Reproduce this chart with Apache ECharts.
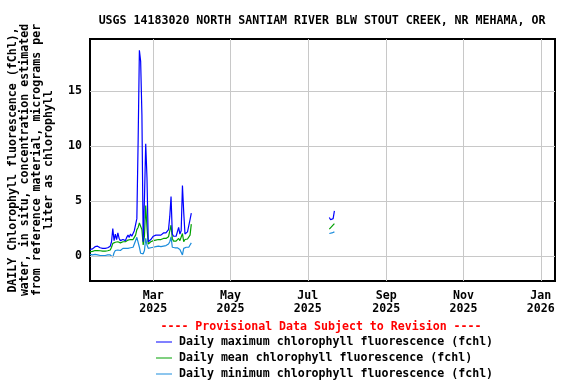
<!DOCTYPE html>
<html>
<head>
<meta charset="utf-8">
<script src="https://cdn.jsdelivr.net/npm/echarts@6/dist/echarts.min.js"></script>
<style>
html,body{margin:0;padding:0;background:#fff;}
#chart{width:576px;height:384px;}
</style>
</head>
<body>
<div id="chart"></div>
<script>
// ---- data ----
const titleText = 'USGS 14183020 NORTH SANTIAM RIVER BLW STOUT CREEK, NR MEHAMA, OR';
const yAxisTitle = 'DAILY Chlorophyll fluorescence (fChl),\nwater, in situ, concentration estimated\nfrom reference material, micrograms per\nliter as chlorophyll';
const provisionalText = '---- Provisional Data Subject to Revision ----';
const seriesNames = [
  'Daily maximum chlorophyll fluorescence (fchl)',
  'Daily mean chlorophyll fluorescence (fchl)',
  'Daily minimum chlorophyll fluorescence (fchl)'
];
const seriesColors = ['#0000ff', '#00a000', '#1a8cdc'];

const seg1Start = '2025-01-10';
const maxSeg1 = [0.6,0.6,0.65,0.7,0.85,0.75,0.9,0.8,0.75,0.7,
  0.7,0.75,0.7,0.7,0.75,0.8,0.9,1.3,2.5,1.4,
  2.0,1.5,2.1,1.6,1.4,1.35,1.5,1.6,1.4,1.7,
  1.9,1.7,2.0,1.8,1.7,2.3,2.4,3.4,10.4,18.7,
  17.7,12.8,1.3,5.2,10.2,7.1,1.3,1.4,1.5,1.4,
  1.8,1.9,1.9,1.8,1.9,2.0,1.9,2.0,2.1,2.0,
  2.1,2.2,2.4,3.6,5.4,2.0,1.8,1.9,1.8,1.9,
  2.6,2.0,2.3,6.4,4.0,2.0,2.1,2.2,2.3,3.3,3.9];
const meanSeg1 = [0.4,0.4,0.42,0.45,0.5,0.48,0.5,0.5,0.48,0.45,
  0.45,0.45,0.45,0.45,0.48,0.5,0.55,0.8,1.15,1.2,
  1.25,1.2,1.3,1.25,1.2,1.25,1.3,1.35,1.3,1.4,
  1.45,1.45,1.5,1.55,1.5,1.7,1.9,2.4,2.6,3.0,
  2.9,2.4,1.0,1.8,4.6,2.6,1.1,1.2,1.3,1.35,
  1.4,1.45,1.45,1.5,1.5,1.55,1.5,1.55,1.6,1.55,
  1.6,1.65,1.75,1.8,2.8,1.6,1.35,1.4,1.35,1.45,
  1.6,1.4,1.5,2.05,1.3,1.5,1.5,1.55,1.6,1.9,2.9];
const minSeg1 = [0.15,0.15,0.1,0.1,0.15,0.1,0.1,0.05,0.05,0.05,
  0.05,0.05,0.05,0.05,0.1,0.1,0.1,0.05,-0.1,0.3,
  0.5,0.4,0.55,0.45,0.5,0.6,0.7,0.65,0.7,0.75,
  0.7,0.8,0.75,0.85,0.8,1.1,1.2,1.7,1.6,0.8,
  0.25,0.25,0.2,0.5,1.6,1.0,0.7,0.7,0.75,0.8,
  0.8,0.85,0.85,0.85,0.9,0.9,0.85,0.9,0.9,0.95,
  0.95,1.0,1.1,1.3,1.75,0.8,0.7,0.75,0.7,0.75,
  0.8,0.6,0.5,0.1,0.7,0.8,0.8,0.85,0.8,1.0,1.2];

const seg2Start = '2025-07-18';
const maxSeg2 = [3.5,3.3,3.3,3.4,4.1];
const meanSeg2 = [2.45,2.6,2.7,2.8,2.95];
const minSeg2 = [2.05,2.2,2.1,2.25,2.2];

const xMinDate = '2025-01-10';
const xMaxDate = '2026-01-12T05:00:00Z';
const xTickDates = ['2025-03-01','2025-05-01','2025-07-01','2025-09-01','2025-11-01','2026-01-01'];
const monthNames = ['Jan','Feb','Mar','Apr','May','Jun','Jul','Aug','Sep','Oct','Nov','Dec'];
const yTicks = [0, 5, 10, 15];
const yMin = -2.27, yMax = 19.73;

// ---- build ----
const DAY = 86400000;
function ms(s){ return new Date(s.length === 10 ? s + 'T00:00:00Z' : s).getTime(); }
function build(seg1, seg2){
  const out = [];
  const s1 = ms(seg1Start), s2 = ms(seg2Start);
  seg1.forEach((v,i)=>out.push([s1 + i*DAY, v]));
  out.push([s1 + seg1.length*DAY, null]);
  seg2.forEach((v,i)=>out.push([s2 + i*DAY, v]));
  return out;
}
const seriesData = [build(maxSeg1, maxSeg2), build(meanSeg1, meanSeg2), build(minSeg1, minSeg2)];
const xTicks = xTickDates.map(ms);

const FONT = 'DejaVu Sans Mono';
const chart = echarts.init(document.getElementById('chart'), null, {renderer:'canvas'});

const lineSeries = seriesNames.map((n,i)=>({
  name: n, type: 'line', data: seriesData[i], showSymbol: false, symbol: 'none',
  connectNulls: false, animation: false, z: 5 - i,
  lineStyle: {color: seriesColors[i], width: 1.2}, itemStyle: {color: seriesColors[i]}
}));

const gridSeries = {
  type: 'line', data: [], silent: true, z: 1, animation: false,
  markLine: {
    silent: true, symbol: ['none','none'], animation: false,
    label: {show: false},
    lineStyle: {color: '#c8c8c8', width: 1, type: 'solid'},
    data: xTicks.map(t=>({xAxis: t})).concat(yTicks.map(v=>({yAxis: v})))
  }
};

chart.setOption({
  animation: false,
  backgroundColor: '#fff',
  textStyle: {fontFamily: FONT},
  title: {
    text: titleText, left: 317, top: 10, textAlign: 'center',
    textStyle: {fontFamily: FONT, fontSize: 11.6, fontWeight: 'bold', color: '#000'}
  },
  grid: {left: 90, top: 39, width: 465, height: 242, show: true, borderColor: '#000', borderWidth: 2, backgroundColor: 'transparent'},
  xAxis: {
    type: 'value', min: ms(xMinDate), max: ms(xMaxDate),
    axisLine: {show: false}, axisTick: {show: false}, splitLine: {show: false},
    axisLabel: {
      customValues: xTicks, margin: 8,
      fontFamily: FONT, fontSize: 11.6, fontWeight: 'bold', color: '#000', lineHeight: 13,
      formatter: function(v){ const d = new Date(v); return monthNames[d.getUTCMonth()] + '\n' + d.getUTCFullYear(); }
    }
  },
  yAxis: {
    type: 'value', min: yMin, max: yMax,
    axisLine: {show: false}, axisTick: {show: false}, splitLine: {show: false},
    axisLabel: {customValues: yTicks, margin: 8, fontFamily: FONT, fontSize: 11.6, fontWeight: 'bold', color: '#000'}
  },
  legend: {
    orient: 'vertical', left: 156, top: 335, padding: 0, itemGap: 2, itemWidth: 16, itemHeight: 1,
    icon: 'rect', selectedMode: false, height: 60,
    data: seriesNames,
    textStyle: {fontFamily: FONT, fontSize: 11.6, fontWeight: 'bold', color: '#000', lineHeight: 14, padding: [0,0,0,2]}
  },
  graphic: [
    {type: 'text', x: 31, y: 160, rotation: Math.PI/2,
     style: {text: yAxisTitle, fill: '#000', font: 'bold 11.6px "DejaVu Sans Mono"', align: 'center', verticalAlign: 'middle', lineHeight: 12.3}},
    {type: 'text', x: 321, y: 327,
     style: {text: provisionalText, fill: '#ff0000', font: 'bold 11.6px "DejaVu Sans Mono"', align: 'center', verticalAlign: 'middle'}}
  ],
  series: [gridSeries].concat(lineSeries)
});
</script>
</body>
</html>
